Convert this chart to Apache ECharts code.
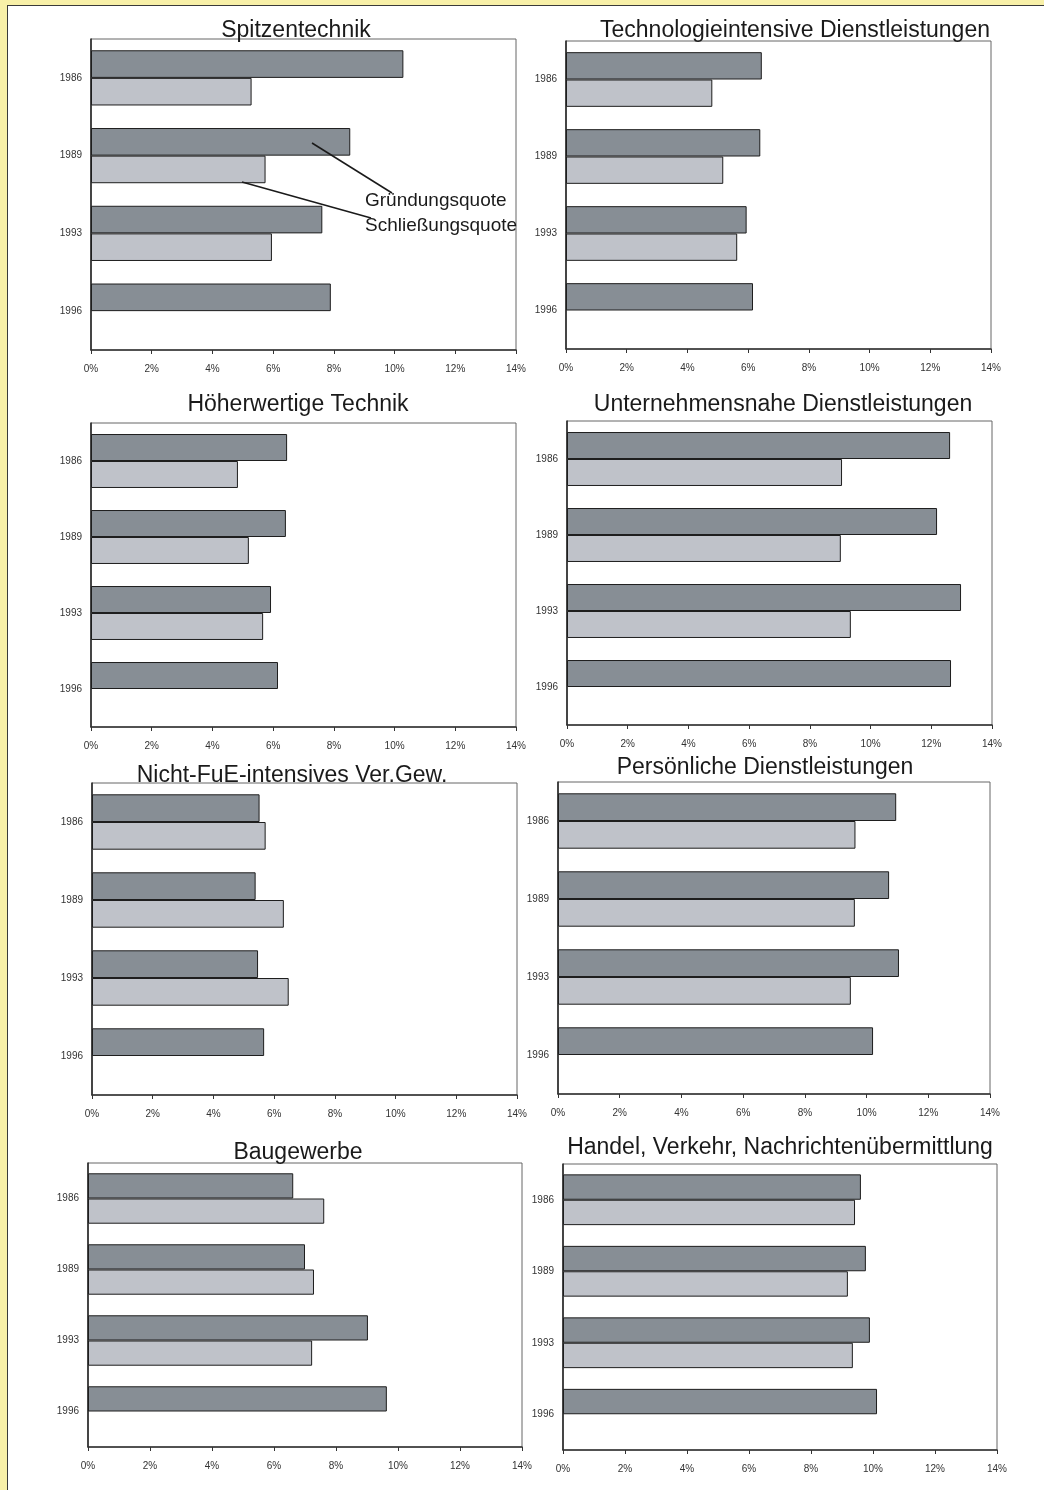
<!DOCTYPE html>
<html>
<head>
<meta charset="utf-8">
<script src="https://cdn.jsdelivr.net/npm/echarts@6/dist/echarts.min.js"></script>
<style>
html,body{margin:0;padding:0;background:#f8f0a8;}
#panel{position:absolute;left:7px;top:5px;width:1037px;height:1485px;background:#fff;border-left:1.5px solid #3a3a3a;border-top:1.5px solid #3a3a3a;}
#chart{position:absolute;left:0;top:0;width:1044px;height:1490px;}
</style>
</head>
<body>
<div id="panel"></div>
<div id="chart"></div>
<script>
// ---- data ----
const years = ['1986', '1989', '1993', '1996'];
const xTicks = [0, 2, 4, 6, 8, 10, 12, 14];
const seriesNames = ['Gründungsquote', 'Schließungsquote'];
const titles = [
  'Spitzentechnik',
  'Technologieintensive Dienstleistungen',
  'Höherwertige Technik',
  'Unternehmensnahe Dienstleistungen',
  'Nicht-FuE-intensives Ver.Gew.',
  'Persönliche Dienstleistungen',
  'Baugewerbe',
  'Handel, Verkehr, Nachrichtenübermittlung'
];
const spitzeG = [10.29, 8.54, 7.62, 7.90];
const spitzeS = [5.29, 5.75, 5.96, null];
const techDlG = [6.45, 6.40, 5.95, 6.16];
const techDlS = [4.82, 5.18, 5.64, null];
const hoehG = [6.46, 6.42, 5.93, 6.16];
const hoehS = [4.84, 5.20, 5.67, null];
const untDlG = [12.62, 12.19, 12.98, 12.65];
const untDlS = [9.06, 9.02, 9.35, null];
const nichtG = [5.52, 5.39, 5.47, 5.67];
const nichtS = [5.72, 6.32, 6.48, null];
const persG = [10.96, 10.73, 11.05, 10.21];
const persS = [9.64, 9.62, 9.49, null];
const bauG = [6.62, 7.00, 9.03, 9.64];
const bauS = [7.62, 7.29, 7.23, null];
const handelG = [9.61, 9.77, 9.90, 10.13];
const handelS = [9.42, 9.19, 9.35, null];

const gruendung = [spitzeG, techDlG, hoehG, untDlG, nichtG, persG, bauG, handelG];
const schliessung = [spitzeS, techDlS, hoehS, untDlS, nichtS, persS, bauS, handelS];

// ---- layout ----
const grids = [
  {left: 91, top: 39, width: 425, height: 311},
  {left: 566, top: 41, width: 425, height: 308},
  {left: 91, top: 423, width: 425, height: 304},
  {left: 567, top: 421, width: 425, height: 304},
  {left: 92, top: 783, width: 425, height: 312},
  {left: 558, top: 782, width: 432, height: 312},
  {left: 88, top: 1163, width: 434, height: 284},
  {left: 563, top: 1164, width: 434, height: 286}
];
const titlePos = [[296, 31], [795, 31], [298, 405], [783, 405], [292, 776], [765, 768], [298, 1153], [780, 1148]];

const FONT = '"Liberation Sans", Arial, sans-serif';
const darkColor = '#878e95';
const lightColor = '#bfc2c9';

const chart = echarts.init(document.getElementById('chart'), null, {renderer: 'canvas'});

const option = {
  animation: false,
  textStyle: {fontFamily: FONT},
  grid: grids.map(g => Object.assign({show: true, borderColor: '#666', borderWidth: 1, backgroundColor: 'transparent'}, g)),
  xAxis: grids.map((g, i) => ({
    gridIndex: i,
    type: 'value',
    min: xTicks[0],
    max: xTicks[xTicks.length - 1],
    interval: xTicks[1] - xTicks[0],
    splitLine: {show: false},
    axisLine: {show: true, lineStyle: {color: '#333', width: 1.5}},
    axisTick: {show: true, length: 4, lineStyle: {color: '#333'}},
    axisLabel: {formatter: '{value}%', fontSize: 10, color: '#333', margin: 14, fontFamily: FONT}
  })),
  yAxis: grids.map((g, i) => ({
    gridIndex: i,
    type: 'category',
    data: years,
    inverse: true,
    axisLine: {show: true, lineStyle: {color: '#222', width: 1.5}},
    axisTick: {show: false},
    axisLabel: {fontSize: 10, color: '#333', margin: 9, fontFamily: FONT}
  })),
  series: [],
  graphic: []
};

for (let i = 0; i < 8; i++) {
  option.series.push({
    name: seriesNames[0], type: 'bar', xAxisIndex: i, yAxisIndex: i,
    data: gruendung[i], barGap: '0%', barCategoryGap: '29%',
    itemStyle: {color: darkColor, borderColor: '#1e1e1e', borderWidth: 1}
  });
  option.series.push({
    name: seriesNames[1], type: 'bar', xAxisIndex: i, yAxisIndex: i,
    data: schliessung[i], barGap: '0%', barCategoryGap: '29%',
    itemStyle: {color: lightColor, borderColor: '#1e1e1e', borderWidth: 1}
  });
  option.graphic.push({
    type: 'text', x: titlePos[i][0], y: titlePos[i][1], z: 100,
    style: {text: titles[i], fill: '#1a1a1a', font: '23px ' + FONT, textAlign: 'center', textVerticalAlign: 'middle'}
  });
}

// annotation (legend) in the first panel
option.graphic.push(
  {type: 'line', z: 100, shape: {x1: 312, y1: 143, x2: 392, y2: 193}, style: {stroke: '#1a1a1a', lineWidth: 1.5}},
  {type: 'line', z: 100, shape: {x1: 242, y1: 182, x2: 371, y2: 218}, style: {stroke: '#1a1a1a', lineWidth: 1.5}},
  {type: 'text', z: 100, x: 365, y: 201, style: {text: seriesNames[0], fill: '#1a1a1a', font: '19px ' + FONT, textAlign: 'left', textVerticalAlign: 'middle'}},
  {type: 'text', z: 100, x: 365, y: 226, style: {text: seriesNames[1], fill: '#1a1a1a', font: '19px ' + FONT, textAlign: 'left', textVerticalAlign: 'middle'}}
);

chart.setOption(option);
</script>
</body>
</html>
